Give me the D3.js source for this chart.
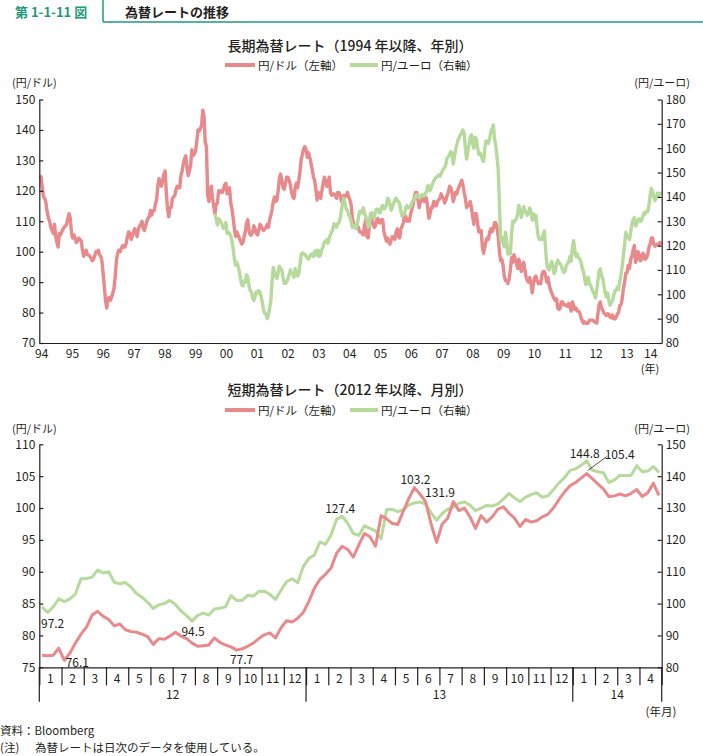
<!DOCTYPE html>
<html><head><meta charset="utf-8">
<script src="https://cdn.jsdelivr.net/npm/d3@7"></script>
<style>
body{margin:0;background:#fff;}
svg{display:block;font-family:"Noto Sans CJK JP","Noto Sans",sans-serif;}
</style></head><body>
<svg id="c" width="703" height="756"></svg>
<script>
// ---------- DATA ----------
// USD/JPY, two readings per month, Jan 1993 .. Apr 2014 (long-term chart)
const usdLong = [
125.0,124.5,121.0,118.0,117.5,116.0,113.0,111.0,110.0,108.0,107.0,106.0,109.0,105.0,103.0,101.5,106.0,105.5,106.5,107.5,108.0,108.5,109.0,111.0,
112.5,111.0,106.0,104.5,105.5,104.5,103.0,103.5,104.5,104.0,103.5,100.5,98.5,99.5,100.5,99.0,99.0,98.5,98.0,97.0,97.5,98.5,100.0,99.8,
100.5,99.0,98.5,97.0,93.0,88.5,84.0,81.5,84.5,85.0,84.0,85.0,86.5,88.0,92.0,97.5,99.5,100.5,100.0,101.0,102.0,101.5,101.5,102.8,
105.0,106.5,106.0,104.0,105.0,106.5,107.5,106.5,105.0,107.5,108.5,109.0,110.0,107.5,107.0,108.5,110.0,111.0,111.5,113.5,112.0,113.5,113.5,115.5,
117.0,121.5,124.0,122.0,121.5,123.5,125.5,126.5,119.5,114.0,111.5,114.5,114.5,117.5,118.0,118.5,120.5,121.5,121.0,121.0,125.0,126.5,129.0,130.5,
131.5,127.5,125.0,126.5,128.5,133.5,131.5,132.0,133.0,136.0,140.0,139.5,140.5,141.5,146.5,144.5,136.0,134.5,118.5,116.5,120.0,121.5,117.5,115.0,
112.5,115.5,116.0,120.0,119.5,120.0,119.5,120.5,122.0,122.5,119.0,120.5,121.0,116.0,114.0,111.0,107.5,105.0,106.5,105.5,104.5,103.5,102.5,103.0,
105.0,106.5,109.5,110.5,107.0,105.5,105.5,106.5,108.5,107.5,106.0,105.5,107.0,109.0,108.5,107.5,107.0,107.5,108.0,109.0,108.0,110.5,112.0,114.0,
116.5,118.0,116.5,117.0,120.0,124.0,125.5,123.5,121.0,120.5,122.5,124.5,124.5,123.5,122.0,119.5,118.0,117.5,121.0,122.5,121.0,123.5,126.5,130.5,
132.0,134.0,134.5,133.5,131.0,132.5,131.0,129.0,127.0,124.5,123.5,120.5,117.0,119.5,119.0,117.5,120.0,122.5,124.5,123.0,121.5,122.5,124.5,119.5,
118.5,119.0,119.0,118.5,117.5,119.5,119.5,118.5,116.5,117.5,118.5,118.0,118.5,119.5,118.0,117.0,115.5,111.0,109.5,108.5,108.5,108.5,108.0,106.5,
106.5,106.0,105.5,108.5,110.5,105.0,104.5,108.5,112.5,110.5,109.0,108.0,108.5,110.5,111.0,109.5,109.5,110.5,110.5,106.5,105.0,103.5,104.5,103.0,
102.5,104.0,105.0,104.5,104.0,106.5,107.5,105.0,104.5,107.5,108.5,109.5,112.0,111.5,110.0,110.5,110.0,112.5,114.0,115.5,118.0,119.5,119.5,117.0,
114.5,116.5,118.0,117.5,116.5,118.0,117.5,114.5,111.0,112.5,114.5,114.5,116.5,115.5,115.0,116.5,117.0,117.5,119.0,118.0,117.5,116.0,117.0,118.5,
119.5,121.5,121.0,119.5,116.5,118.0,119.5,119.0,120.5,121.5,122.5,123.5,122.0,119.5,117.5,114.5,115.0,115.5,116.5,114.5,111.5,109.0,112.5,112.5,
109.5,106.5,107.0,107.0,101.5,99.5,101.5,103.5,104.5,104.0,106.5,107.5,106.5,107.5,109.5,109.5,108.0,105.0,100.0,97.0,97.5,95.5,92.0,90.5,
90.5,89.5,91.0,94.0,98.0,96.5,99.0,97.5,96.5,94.5,97.5,96.0,93.5,94.5,96.5,94.0,91.5,90.5,90.0,91.5,89.5,86.5,89.5,91.5,
92.0,90.5,89.5,90.0,89.5,92.5,93.5,93.5,92.0,90.0,91.5,89.0,87.5,86.5,85.5,84.5,84.0,84.5,81.5,81.0,81.5,83.5,83.5,82.5,
82.5,82.5,82.0,83.0,82.0,80.5,83.5,82.5,81.0,81.5,80.5,80.5,80.0,78.5,77.5,76.5,77.0,76.5,76.5,76.5,77.5,77.5,77.5,77.5,
77.0,76.8,76.5,79.5,82.5,83.5,81.5,80.8,79.8,79.5,79.0,79.6,79.5,78.5,78.3,79.2,78.0,77.9,78.5,79.5,80.0,82.3,82.5,84.5,
88.0,90.0,93.0,93.2,95.5,94.5,97.5,98.5,100.5,102.0,96.5,97.5,100.0,99.0,97.0,97.5,99.5,99.0,97.5,98.0,99.0,101.5,102.5,104.5,
104.5,102.5,101.8,102.2,102.5,102.2,103.0,102.3
];
// EUR/JPY, two readings per month, Jan 1999 .. Apr 2014 (long-term chart)
const eurLong = [
133.0,131.0,128.5,131.0,130.5,129.5,128.5,127.0,128.0,129.5,125.0,125.5,125.0,124.0,122.0,118.5,114.5,112.0,113.0,111.5,109.5,106.5,104.0,103.5,
105.5,105.0,108.0,107.0,103.5,101.5,101.0,98.5,97.5,99.0,101.0,100.5,101.5,101.0,99.0,96.5,93.5,92.0,92.0,90.0,91.5,94.5,97.5,105.5,
111.0,109.0,107.5,106.5,109.0,111.5,110.5,110.0,107.0,104.5,104.5,105.0,106.5,108.0,110.0,108.5,108.5,107.0,110.5,109.0,107.5,108.5,112.5,116.5,
117.0,116.5,116.5,115.5,115.0,114.5,115.5,116.5,116.5,115.5,117.5,118.0,116.0,118.0,115.5,116.5,118.5,119.5,121.5,121.5,122.5,121.0,123.0,124.5,
125.5,127.0,129.0,128.0,127.5,129.0,129.5,131.0,134.5,137.5,139.5,137.0,135.0,134.5,132.5,132.0,130.0,127.5,128.5,127.5,127.0,128.5,131.5,134.0,
134.0,133.5,135.5,133.0,132.0,130.5,127.5,128.5,132.5,133.5,132.0,131.5,134.0,135.0,135.0,133.5,133.5,135.5,136.5,135.0,135.5,136.5,139.5,139.0,
137.0,134.5,136.0,137.5,138.5,139.5,138.5,138.0,137.0,134.0,132.0,132.5,133.5,135.5,136.5,135.5,136.0,136.0,137.5,138.5,139.0,140.5,141.0,140.0,
139.5,140.0,141.0,140.5,140.5,141.5,142.0,144.5,144.5,142.5,144.0,145.5,146.5,147.5,148.0,148.5,149.0,148.5,149.5,150.5,151.5,152.0,153.5,156.0,
156.5,157.5,158.5,158.0,153.5,156.5,159.5,161.5,163.5,164.5,165.5,166.5,167.5,166.0,160.0,155.5,158.5,161.5,164.5,165.5,162.0,160.0,164.5,164.0,
160.5,157.5,158.0,157.0,155.5,154.5,160.0,163.0,162.5,162.0,164.0,167.0,168.0,169.5,164.0,161.0,156.5,151.5,138.0,122.0,123.5,121.0,119.5,125.5,
121.5,116.5,118.5,116.5,125.0,130.0,129.5,130.5,131.0,133.0,136.5,134.5,131.5,133.5,136.0,134.5,133.5,132.5,133.5,135.5,133.5,130.5,133.0,130.5,
132.5,127.5,123.5,122.5,123.0,122.5,124.5,126.0,118.5,112.5,110.5,110.0,112.0,113.5,111.5,108.5,109.5,112.5,114.0,113.0,112.5,111.5,110.0,109.0,
109.5,112.0,112.5,113.5,115.5,113.5,119.0,122.0,118.5,115.5,116.5,115.0,114.5,113.5,111.0,109.5,107.0,104.0,104.5,107.0,104.5,103.5,102.5,101.0,
100.0,98.5,101.5,105.5,109.5,110.5,107.5,106.5,103.5,100.5,99.0,100.5,97.5,95.5,96.5,97.5,99.5,101.5,101.5,103.0,102.0,105.0,108.0,111.5,
116.0,120.5,125.5,123.5,123.5,122.5,125.5,129.0,130.5,131.5,128.0,129.0,130.5,131.0,130.0,130.5,132.0,133.5,133.0,134.0,134.0,136.5,140.5,143.5,
142.0,140.0,138.5,139.5,141.5,140.5,141.5,141.0
];
const yearLabels = ["94","95","96","97","98","99","00","01","02","03","04","05","06","07","08","09","10","11","12","13","14"];
const longLeftTicks = [70,80,90,100,110,120,130,140,150];
const longRightTicks = [80,90,100,110,120,130,140,150,160,170,180];

// Short-term chart: four readings per month, Jan 2012 .. Apr 2014
const usdShort = [
76.9,76.8,76.9,78.0, 76.1,77.2,78.8,80.2, 81.3,83.2,83.8,83.0, 82.5,81.5,81.8,80.9,
80.6,80.5,80.2,79.8, 78.6,79.5,79.4,79.9, 80.5,79.9,79.5,78.8, 78.3,78.4,78.5,79.6,
78.9,78.5,78.2,77.7, 77.9,78.3,78.8,79.5, 80.1,80.4,79.6,81.2, 82.3,82.1,82.7,83.6,
85.3,87.4,88.8,89.6, 90.6,92.9,94.0,93.5, 92.3,94.2,96.0,95.5, 94.0,98.8,98.3,97.6,
97.4,99.5,101.5,103.2, 102.2,101.0,97.5,94.6, 97.5,98.4,101.0,99.6, 100.0,98.6,96.8,98.8,
97.8,98.6,99.8,100.2, 99.2,98.4,97.1,98.2, 97.8,98.0,98.6,99.0, 100.0,101.3,102.5,103.5,
104.0,104.7,105.4,104.6, 103.8,103.0,101.8,101.9, 102.2,101.9,102.3,102.9, 101.8,102.4,103.9,102.0
];
const eurShort = [
99.0,97.2,99.0,101.5, 100.6,101.5,103.0,107.8, 107.9,108.3,110.5,109.6, 110.0,106.7,106.2,106.6,
105.2,103.2,102.0,100.4, 98.5,99.6,100.0,101.0, 99.7,97.7,96.2,94.5, 96.3,97.0,96.4,98.3,
98.5,99.0,102.5,101.0, 101.0,102.6,102.3,103.8, 103.9,102.9,101.3,104.2, 106.9,107.8,106.5,111.6,
114.2,115.2,119.4,118.6, 121.5,126.5,127.4,125.2, 122.0,121.4,124.4,123.6, 122.8,120.3,129.5,129.6,
128.9,129.4,131.0,131.6, 131.9,131.2,128.5,126.2, 128.3,129.6,130.2,131.5, 131.9,130.9,129.2,130.0,
130.8,130.6,131.2,132.8, 134.6,133.2,132.0,133.4, 134.2,134.8,133.4,133.8, 135.7,137.8,139.5,141.8,
142.3,143.4,144.8,141.9, 141.4,141.1,138.0,138.8, 140.3,140.1,140.3,143.3, 141.4,141.6,143.0,141.2
];
const monthLabels = ["1","2","3","4","5","6","7","8","9","10","11","12","1","2","3","4","5","6","7","8","9","10","11","12","1","2","3","4"];
const yearNames = ["12","13","14"];
const yearStarts = [0,12,24];
const shortLeftTicks = [75,80,85,90,95,100,105,110];
const shortRightTicks = [80,90,100,110,120,130,140,150];
const notes = [
  {text:"97.2", series:"eur", index:1},
  {text:"76.1", series:"usd", index:4},
  {text:"94.5", series:"eur", index:27},
  {text:"77.7", series:"usd", index:35},
  {text:"127.4", series:"eur", index:54},
  {text:"103.2", series:"usd", index:67},
  {text:"131.9", series:"eur", index:68},
  {text:"144.8", series:"eur", index:98},
  {text:"105.4", series:"usd", index:98}
];

// ---------- DRAW ----------
const RED="#e8898b", GREEN="#b6da9c", INK="#231f20", TEAL="#1f9a7c";
const L=39.3, R=661.7;
const svg=d3.select("#c");

// header
svg.append("line").attr("x1",103).attr("x2",703).attr("y1",22).attr("y2",22).attr("stroke",TEAL).attr("stroke-width",1.5);
svg.append("line").attr("x1",103).attr("x2",103).attr("y1",0).attr("y2",22).attr("stroke",TEAL).attr("stroke-width",1.5);

function txt(x,y,s,opt={}){
  return svg.append("text").attr("x",x).attr("y",y).attr("dominant-baseline","central")
    .attr("text-anchor",opt.anchor||"start").attr("font-size",opt.size||12)
    .attr("font-weight",opt.weight||400).attr("fill",opt.fill||INK).text(s);
}
txt(15,11.5,"第 1-1-11 図",{size:13,weight:700,fill:TEAL});
txt(125,11.5,"為替レートの推移",{size:13,weight:700});

function legend(y){
  svg.append("line").attr("x1",225).attr("x2",255).attr("y1",y).attr("y2",y).attr("stroke",RED).attr("stroke-width",4);
  txt(258,y,"円/ドル（左軸）",{size:11.5});
  svg.append("line").attr("x1",350).attr("x2",378).attr("y1",y).attr("y2",y).attr("stroke",GREEN).attr("stroke-width",4);
  txt(381,y,"円/ユーロ（右軸）",{size:11.5});
}
function styleAxis(g){
  g.selectAll("path,line").attr("stroke",INK).attr("stroke-width",1.2);
  g.selectAll("text").attr("fill",INK).attr("font-size",12).attr("font-family",'"Noto Sans CJK JP","Noto Sans",sans-serif');
}

// ===== Long-term chart =====
const T0=99.5, B0=343;
txt(350,45,"長期為替レート（1994 年以降、年別）",{anchor:"middle",size:14,weight:500});
legend(65);
txt(12,82,"(円/ドル)",{size:11});
txt(690,82,"(円/ユーロ)",{anchor:"end",size:11});

const xT=d3.scaleLinear().domain([1993,1993+usdLong.length/24]).range([L,R]);
const yTL=d3.scaleLinear().domain([70,150]).range([B0,T0]);
const yTR=d3.scaleLinear().domain([80,180]).range([B0,T0]);

const lineUsdL=d3.line().x((d,i)=>xT(1993+(i+0.5)/24)).y(d=>yTL(d));
const lineEurL=d3.line().x((d,i)=>xT(1999+(i+0.5)/24)).y(d=>yTR(d));
svg.append("path").datum(usdLong).attr("d",lineUsdL).attr("fill","none").attr("stroke",RED).attr("stroke-width",3.4).attr("stroke-linejoin","round");
svg.append("path").datum(eurLong).attr("d",lineEurL).attr("fill","none").attr("stroke",GREEN).attr("stroke-width",3.4).attr("stroke-linejoin","round");

const gL=svg.append("g").attr("transform",`translate(${L},0)`)
  .call(d3.axisLeft(yTL).tickValues(longLeftTicks).tickSize(-4).tickSizeOuter(0).tickPadding(4));
styleAxis(gL);
const gR=svg.append("g").attr("transform",`translate(${R},0)`)
  .call(d3.axisRight(yTR).tickValues(longRightTicks).tickSize(-4).tickSizeOuter(0).tickPadding(4));
styleAxis(gR);
const gB=svg.append("g").attr("transform",`translate(0,${B0})`)
  .call(d3.axisBottom(xT).tickValues([]).tickSizeOuter(0));
styleAxis(gB);
const xLab=d3.scaleLinear().domain([0,yearLabels.length-1]).range([41.7,657.7]);
yearLabels.forEach((s,i)=>txt(Math.min(xLab(i),R-11),352,s,{anchor:"middle"}));
txt(650,368,"(年)",{anchor:"middle",size:11});

// ===== Short-term chart =====
const T1=444.3, B1=667.3, BX=701.7;
txt(350,389,"短期為替レート（2012 年以降、月別）",{anchor:"middle",size:14,weight:500});
legend(410);
txt(12,428,"(円/ドル)",{size:11});
txt(690,428,"(円/ユーロ)",{anchor:"end",size:11});

const xS=d3.scaleLinear().domain([0,monthLabels.length]).range([L,R]);
const ySL=d3.scaleLinear().domain([75,110]).range([B1,T1]);
const ySR=d3.scaleLinear().domain([80,150]).range([B1,T1]);
const px=i=>xS((i+0.5)/4);

svg.append("path").datum(eurShort).attr("d",d3.line().x((d,i)=>px(i)).y(d=>ySR(d)))
  .attr("fill","none").attr("stroke",GREEN).attr("stroke-width",3).attr("stroke-linejoin","round");
svg.append("path").datum(usdShort).attr("d",d3.line().x((d,i)=>px(i)).y(d=>ySL(d)))
  .attr("fill","none").attr("stroke",RED).attr("stroke-width",3).attr("stroke-linejoin","round");

const sL=svg.append("g").attr("transform",`translate(${L},0)`)
  .call(d3.axisLeft(ySL).tickValues(shortLeftTicks).tickSize(-4).tickSizeOuter(0).tickPadding(4));
styleAxis(sL);
const sR=svg.append("g").attr("transform",`translate(${R},0)`)
  .call(d3.axisRight(ySR).tickValues(shortRightTicks).tickSize(-4).tickSizeOuter(0).tickPadding(4));
styleAxis(sR);
const sB=svg.append("g").attr("transform",`translate(0,${B1})`)
  .call(d3.axisBottom(xS).tickValues(d3.range(0,monthLabels.length+1)).tickSize(18).tickSizeOuter(0).tickFormat(""));
styleAxis(sB);
[0,...yearStarts.slice(1),monthLabels.length].forEach(m=>{
  svg.append("line").attr("x1",xS(m)).attr("x2",xS(m)).attr("y1",B1).attr("y2",BX).attr("stroke",INK).attr("stroke-width",1.2);
});
monthLabels.forEach((s,i)=>txt(xS(i+0.5),677,s,{anchor:"middle"}));
yearNames.forEach((s,k)=>{
  const a=yearStarts[k], b=k+1<yearStarts.length?yearStarts[k+1]:monthLabels.length;
  txt(xS((a+b)/2),693,s,{anchor:"middle"});
});
txt(661,711,"(年月)",{anchor:"middle",size:11.5});

// annotations
const off={"97.2":[5,10],"76.1":[13,1],"94.5":[1,9],"77.7":[5,8],"127.4":[-2,-9],"103.2":[1,-9],"131.9":[20,-10],"144.8":[-2,-8],"105.4":[33,-20]};
notes.forEach(n=>{
  const v=(n.series==="usd"?usdShort:eurShort)[n.index];
  const x=px(n.index), y=n.series==="usd"?ySL(v):ySR(v);
  const o=off[n.text];
  txt(x+o[0],y+o[1],n.text,{anchor:"middle",size:12});
  if(n.text==="105.4"){
    svg.append("line").attr("x1",x+1).attr("y1",y-3).attr("x2",x+20).attr("y2",y-17).attr("stroke",INK).attr("stroke-width",0.8);
  }
});

// footer
txt(0,730,"資料：Bloomberg",{size:11.5});
txt(0,746.5,"(注)",{size:11.5});
txt(35,746.5,"為替レートは日次のデータを使用している。",{size:11.5});
</script>
</body></html>
